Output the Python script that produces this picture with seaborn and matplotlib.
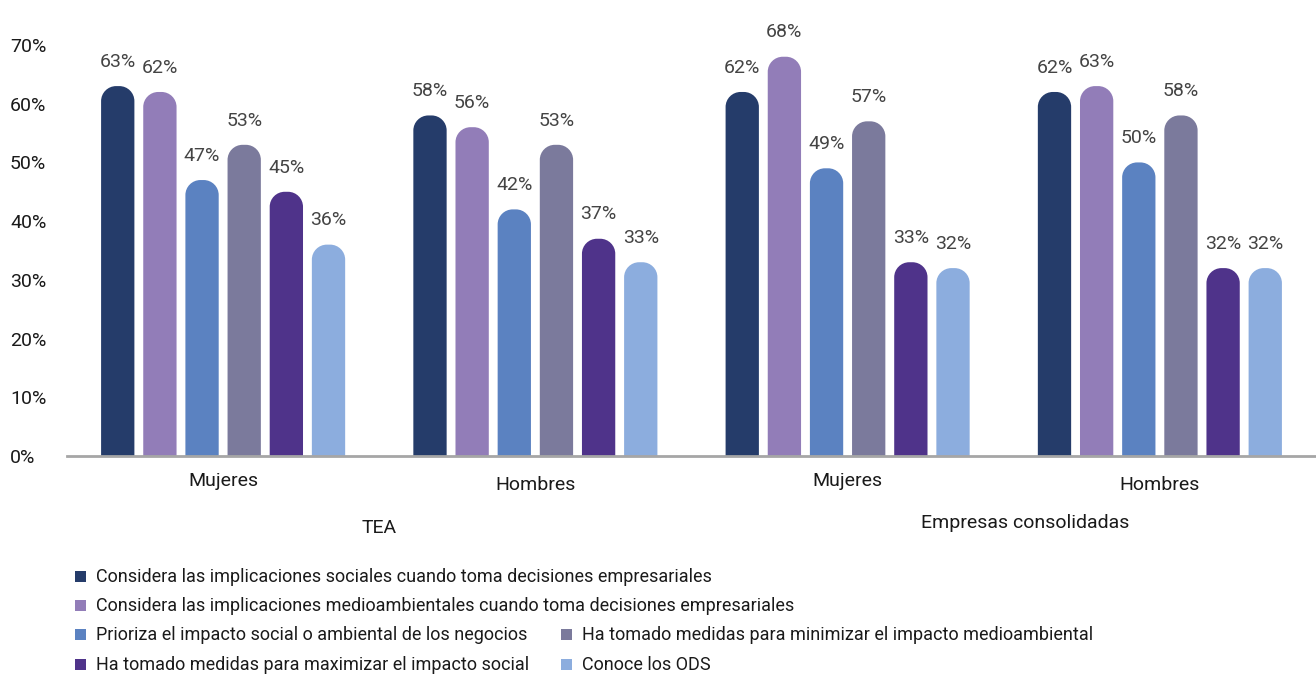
import matplotlib
matplotlib.use("Agg")
import matplotlib.pyplot as plt
from matplotlib.patches import PathPatch, Rectangle
from matplotlib.path import Path
import matplotlib.transforms as mtransforms
import pandas as pd
import seaborn as sns

# data
groups = ["TEA", "Empresas consolidadas"]
sexes = ["Mujeres", "Hombres"]
series = [
    "Considera las implicaciones sociales cuando toma decisiones empresariales",
    "Considera las implicaciones medioambientales cuando toma decisiones empresariales",
    "Prioriza el impacto social o ambiental de los negocios",
    "Ha tomado medidas para minimizar el impacto medioambiental",
    "Ha tomado medidas para maximizar el impacto social",
    "Conoce los ODS",
]
tea_mujeres = [63, 62, 47, 53, 45, 36]
tea_hombres = [58, 56, 42, 53, 37, 33]
emp_mujeres = [62, 68, 49, 57, 33, 32]
emp_hombres = [62, 63, 50, 58, 32, 32]
colors = ["#253c6a", "#927db8", "#5b82c1", "#7b7a9c", "#4f338a", "#8cadde"]

rows = []
for g, s, vals in [("TEA", "Mujeres", tea_mujeres), ("TEA", "Hombres", tea_hombres),
                   ("Empresas consolidadas", "Mujeres", emp_mujeres),
                   ("Empresas consolidadas", "Hombres", emp_hombres)]:
    for name, v in zip(series, vals):
        rows.append({"cat": g + "|" + s, "serie": name, "valor": v})
df = pd.DataFrame(rows)

sns.set_theme(style="white")
plt.rcParams["font.family"] = ["Roboto", "DejaVu Sans"]

fig = plt.figure(figsize=(13.16, 6.77), dpi=100)
ax = fig.add_axes([67 / 1316, 1 - 456 / 677, 1 - 67 / 1316, (456 - 45) / 677])

sns.barplot(data=df, x="cat", y="valor", hue="serie", hue_order=series,
            palette=colors, width=0.81, gap=0.21, legend=False, ax=ax,
            saturation=1, errorbar=None)

ax.set_xlim(-0.5, 3.5)
ax.set_ylim(0, 70)


def rounded_top(x, w, h, rx, ry):
    k = 0.5523
    verts = [(x, 0), (x, h - ry),
             (x, h - ry + k * ry), (x + rx - k * rx, h), (x + rx, h),
             (x + w - rx, h),
             (x + w - rx + k * rx, h), (x + w, h - ry + k * ry), (x + w, h - ry),
             (x + w, 0), (x, 0)]
    codes = [Path.MOVETO, Path.LINETO,
             Path.CURVE4, Path.CURVE4, Path.CURVE4,
             Path.LINETO,
             Path.CURVE4, Path.CURVE4, Path.CURVE4,
             Path.LINETO, Path.CLOSEPOLY]
    return Path(verts, codes)


# replace square bars with rounded-top ones
px_x = ax.transData.transform((1, 0))[0] - ax.transData.transform((0, 0))[0]
px_y = ax.transData.transform((0, 1))[1] - ax.transData.transform((0, 0))[1]
bars = [p for p in ax.patches]
for p in bars:
    x, w, h = p.get_x(), p.get_width(), p.get_height()
    col = p.get_facecolor()
    p.remove()
    rx = min(15 / px_x, w / 2)
    ry = 15 / px_y
    ax.add_patch(PathPatch(rounded_top(x, w, h, rx, ry), facecolor=col, edgecolor="none"))
    ax.text(x + w / 2, h + 2.6, f"{h:.0f}%", ha="center", va="bottom",
            fontsize=14, color="#444444", clip_on=False)

ax.set_yticks(range(0, 71, 10))
ax.set_yticklabels([f"{t}%" for t in range(0, 71, 10)])
ax.tick_params(axis="y", length=0, pad=41, labelsize=14, labelcolor="#1a1a1a")
for lab in ax.get_yticklabels():
    lab.set_horizontalalignment("left")

ax.set_xticks(range(4))
ax.set_xticklabels([])
ax.tick_params(axis="x", length=0)
ax.set_xlabel("")
ax.set_ylabel("")

for s in ["top", "right", "left"]:
    ax.spines[s].set_visible(False)
ax.spines["bottom"].set_color("#a6a6a6")
ax.spines["bottom"].set_linewidth(2)
ax.spines["bottom"].set_position(("data", 0))

trans = mtransforms.blended_transform_factory(ax.transData, fig.transFigure)
for i, c in enumerate(df["cat"].unique()):
    ylab = 481 if i % 2 == 0 else 485
    ax.text(i, 1 - ylab / 677, c.split("|")[1], transform=trans, ha="center",
            va="center", fontsize=14, color="#1a1a1a")
ax.text(0.5, 1 - 528 / 677, groups[0], transform=trans, ha="center", va="center",
        fontsize=14, color="#1a1a1a")
ax.text(2.57, 1 - 523 / 677, groups[1], transform=trans, ha="center",
        va="center", fontsize=14, color="#1a1a1a")

# legend laid out as in the original
legend_pos = [(80, 577), (80, 606), (80, 635), (566, 635), (80, 665), (566, 665)]
for (lx, ly), name, c in zip(legend_pos, series, colors):
    fig.patches.append(Rectangle(((lx - 5) / 1316, 1 - (ly + 5) / 677), 11 / 1316, 11 / 677,
                                 transform=fig.transFigure, facecolor=c, edgecolor="none"))
    fig.text((lx + 16) / 1316, 1 - ly / 677, name, ha="left", va="center",
             fontsize=13, color="#1a1a1a")

fig.savefig("out.png", dpi=100)
